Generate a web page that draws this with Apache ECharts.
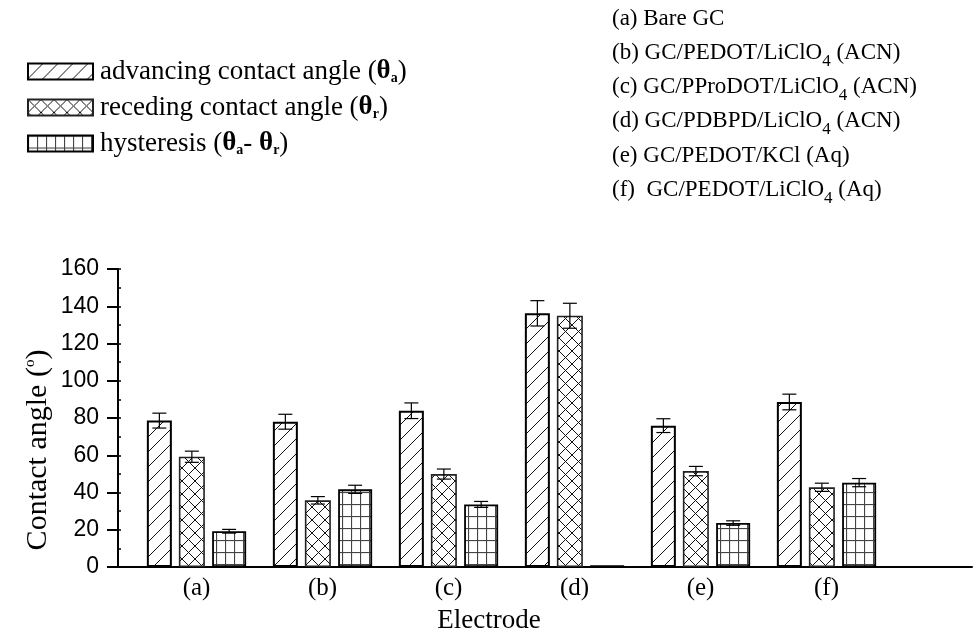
<!DOCTYPE html>
<html><head><meta charset="utf-8">
<script src="https://cdn.jsdelivr.net/npm/echarts@6/dist/echarts.min.js"></script>
<style>html,body{margin:0;padding:0;background:#fff}#c{width:977px;height:634px}</style>
</head><body><div id="c"></div>
<script>
// ---- data ----
const categories = ['(a)', '(b)', '(c)', '(d)', '(e)', '(f)'];
const advancing = [78.6, 78.0, 83.9, 136.2, 75.9, 88.6];
const advancingErr = [4.0, 4.0, 4.2, 6.8, 3.7, 4.2];
const receding = [59.2, 35.8, 49.9, 134.9, 51.5, 42.8];
const recedingErr = [3.0, 2.0, 2.7, 6.7, 2.5, 2.2];
const hysteresis = [19.2, 41.7, 33.6, 1.0, 23.6, 45.3];
const hysteresisErr = [1.0, 2.2, 1.6, 0, 1.2, 2.2];
const yTicks = [0, 20, 40, 60, 80, 100, 120, 140, 160];
const electrodeLabels = [
  ['(a) Bare GC'],
  ['(b) GC/PEDOT/LiClO', '4', ' (ACN)'],
  ['(c) GC/PProDOT/LiClO', '4', ' (ACN)'],
  ['(d) GC/PDBPD/LiClO', '4', ' (ACN)'],
  ['(e) GC/PEDOT/KCl (Aq)'],
  ['(f)  GC/PEDOT/LiClO', '4', ' (Aq)']
];

// ---- styles ----
const SERIF = '"Liberation Serif","Times New Roman",serif';
const SANS = '"Liberation Sans",Arial,sans-serif';
const barWidths = [25, 26, 34];
const gapPct = 0.28;

function pattern(type) {
  const c = document.createElement('canvas');
  const ctx = c.getContext('2d');
  if (type === 'diag') {
    c.width = 15; c.height = 15;
    ctx.fillStyle = '#fff'; ctx.fillRect(0, 0, 15, 15);
    ctx.strokeStyle = '#111'; ctx.lineWidth = 1;
    [[0, 15, 15, 0], [-7.5, 7.5, 7.5, -7.5], [7.5, 22.5, 22.5, 7.5]].forEach(l => {
      ctx.beginPath(); ctx.moveTo(l[0], l[1]); ctx.lineTo(l[2], l[3]); ctx.stroke();
    });
  } else if (type === 'cross') {
    c.width = 13; c.height = 13;
    ctx.fillStyle = '#fff'; ctx.fillRect(0, 0, 13, 13);
    ctx.strokeStyle = '#111'; ctx.lineWidth = 1;
    [[0, 13, 13, 0], [0, 0, 13, 13]].forEach(l => {
      ctx.beginPath(); ctx.moveTo(l[0], l[1]); ctx.lineTo(l[2], l[3]); ctx.stroke();
    });
  } else {
    c.width = 9; c.height = 12;
    ctx.fillStyle = '#fff'; ctx.fillRect(0, 0, 9, 12);
    ctx.strokeStyle = '#444'; ctx.lineWidth = 1.2;
    ctx.beginPath(); ctx.moveTo(0.5, 0); ctx.lineTo(0.5, 12); ctx.stroke();
    ctx.beginPath(); ctx.moveTo(0, 0.5); ctx.lineTo(9, 0.5); ctx.stroke();
  }
  return { image: c, repeat: 'repeat' };
}

// bar centre offsets (same arithmetic as ECharts' bar layout)
const offsets = (function () {
  let total = 0;
  barWidths.forEach(w => total += w * (1 + gapPct));
  total -= barWidths[barWidths.length - 1] * gapPct;
  let o = -total / 2; const res = [];
  barWidths.forEach(w => { res.push(o + w / 2); o += w * (1 + gapPct); });
  return res;
})();

function errSeries(vals, errs, k) {
  return {
    type: 'custom', xAxisIndex: 1, yAxisIndex: 2, z: 5, silent: true,
    data: vals.map((v, i) => [i, v, errs[i]]),
    renderItem: function (params, api) {
      const i = api.value(0), v = api.value(1), e = api.value(2);
      if (!e) return;
      const t = api.coord([i, v + e]), b = api.coord([i, v - e]);
      const x = t[0] + offsets[k];
      const st = { stroke: '#000', lineWidth: 1.2 };
      return { type: 'group', children: [
        { type: 'line', shape: { x1: x, y1: t[1], x2: x, y2: b[1] }, style: st },
        { type: 'line', shape: { x1: x - 7, y1: t[1], x2: x + 7, y2: t[1] }, style: st },
        { type: 'line', shape: { x1: x - 7, y1: b[1], x2: x + 7, y2: b[1] }, style: st }
      ]};
    }
  };
}

const subRich = {
  t: { fontFamily: SERIF, fontSize: 27, color: '#000' },
  b: { fontFamily: SERIF, fontSize: 27, fontWeight: 'bold', color: '#000' },
  s: { fontFamily: SERIF, fontSize: 14, fontWeight: 'bold', color: '#000', verticalAlign: 'bottom', padding: [14, 0, 0, 0] }
};

const legendNames = ['advancing', 'receding', 'hysteresis'];
const legendText = {
  advancing: '{t|advancing contact angle (}{b|θ}{s|a}{t|)}',
  receding: '{t|receding contact angle (}{b|θ}{s|r}{t|)}',
  hysteresis: '{t|hysteresis (}{b|θ}{s|a}{t|- }{b|θ}{s|r}{t|)}'
};

const graphics = [];
electrodeLabels.forEach((parts, i) => {
  let txt = '{m|' + parts[0] + '}';
  if (parts.length > 1) txt += '{u|' + parts[1] + '}{m|' + parts[2] + '}';
  graphics.push({
    type: 'text', left: 612, top: 7 + i * 34.3,
    style: { text: txt, rich: {
      m: { fontFamily: SERIF, fontSize: 23, color: '#000' },
      u: { fontFamily: SERIF, fontSize: 17, color: '#000', padding: [17, 0, 0, 0] }
    } }
  });
});
graphics.push({
  type: 'text', x: 38, y: 450, rotation: Math.PI / 2,
  style: { text: '{t|Contact angle (}{o|o}{t|)}', align: 'center', verticalAlign: 'middle',
    rich: { t: { fontFamily: SERIF, fontSize: 30, color: '#000' },
            o: { fontFamily: SERIF, fontSize: 15, color: '#000', padding: [0, 0, 16, 0] } } }
});
graphics.push({
  type: 'text', x: 489, y: 621,
  style: { text: 'Electrode', align: 'center', verticalAlign: 'middle', fontFamily: SERIF, fontSize: 27, fill: '#000' }
});

const chart = echarts.init(document.getElementById('c'), null, { renderer: 'canvas' });
chart.setOption({
  animation: false,
  backgroundColor: '#fff',
  grid: [
    { left: 118, right: 5, top: 269, bottom: 67 },
    { left: 133.5, right: 87.5, top: 269, bottom: 67 }
  ],
  legend: {
    orient: 'vertical', left: 27, top: 58, padding: 0, itemWidth: 65, itemHeight: 16, itemGap: 9,
    icon: 'rect',
    data: legendNames, selectedMode: false,
    formatter: n => legendText[n],
    textStyle: { rich: subRich, lineHeight: 27, padding: [0, 0, 0, 2] }
  },
  xAxis: [
    { type: 'value', gridIndex: 0, min: 0, max: 1, axisLine: { lineStyle: { color: '#000', width: 2 } },
      axisTick: { show: false }, axisLabel: { show: false }, splitLine: { show: false } },
    { type: 'category', gridIndex: 1, data: categories, axisLine: { show: false }, axisTick: { show: false },
      axisLabel: { color: '#000', fontFamily: SERIF, fontSize: 25, margin: 9 } }
  ],
  yAxis: [
    { type: 'value', gridIndex: 0, min: yTicks[0], max: yTicks[yTicks.length - 1], interval: 20,
      axisLine: { show: true, lineStyle: { color: '#000', width: 2 } },
      axisTick: { show: true, length: 11, lineStyle: { color: '#000', width: 2 } },
      axisLabel: { color: '#000', fontFamily: SANS, fontSize: 23, margin: 19 },
      splitLine: { show: false } },
    { type: 'value', gridIndex: 0, min: 0, max: 160, interval: 10, position: 'left',
      axisLine: { show: false }, axisTick: { show: true, inside: true, length: 3, lineStyle: { color: '#000', width: 1.5 } },
      axisLabel: { show: false }, splitLine: { show: false } },
    { type: 'value', gridIndex: 1, min: 0, max: 160, show: false }
  ],
  series: [
    { name: 'advancing', type: 'bar', xAxisIndex: 1, yAxisIndex: 2, data: advancing, barWidth: barWidths[0], barGap: '28%',
      itemStyle: { color: pattern('diag'), borderColor: '#000', borderWidth: 2 } },
    { name: 'receding', type: 'bar', xAxisIndex: 1, yAxisIndex: 2, data: receding, barWidth: barWidths[1], barGap: '28%',
      itemStyle: { color: pattern('cross'), borderColor: '#222', borderWidth: 1.6 } },
    { name: 'hysteresis', type: 'bar', xAxisIndex: 1, yAxisIndex: 2, data: hysteresis, barWidth: barWidths[2], barGap: '28%',
      itemStyle: { color: pattern('grid'), borderColor: '#000', borderWidth: 1.8 } },
    errSeries(advancing, advancingErr, 0),
    errSeries(receding, recedingErr, 1),
    errSeries(hysteresis, hysteresisErr, 2)
  ],
  graphic: graphics
});
</script></body></html>
